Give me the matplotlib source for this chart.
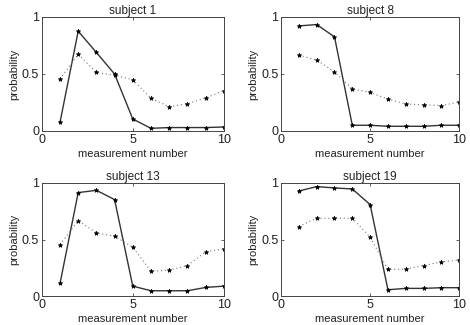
import matplotlib.pyplot as plt

plt.rcParams["font.family"] = ["Liberation Sans", "DejaVu Sans"]

x = [1, 2, 3, 4, 5, 6, 7, 8, 9, 10]

titles = ["subject 1", "subject 8", "subject 13", "subject 19"]

solid_vals = [
    [0.076, 0.875, 0.688, 0.499, 0.105, 0.023, 0.030, 0.030, 0.030, 0.035],
    [0.921, 0.933, 0.825, 0.050, 0.050, 0.041, 0.041, 0.041, 0.050, 0.050],
    [0.112, 0.915, 0.935, 0.853, 0.088, 0.047, 0.047, 0.047, 0.076, 0.088],
    [0.929, 0.968, 0.956, 0.947, 0.809, 0.056, 0.068, 0.068, 0.074, 0.074],
]

dotted_vals = [
    [0.455, 0.673, 0.513, 0.490, 0.449, 0.286, 0.213, 0.239, 0.289, 0.353],
    [0.665, 0.621, 0.519, 0.370, 0.338, 0.280, 0.236, 0.230, 0.222, 0.254],
    [0.453, 0.668, 0.559, 0.529, 0.432, 0.220, 0.229, 0.270, 0.391, 0.418],
    [0.615, 0.688, 0.688, 0.688, 0.521, 0.235, 0.238, 0.270, 0.303, 0.318],
]

fig = plt.figure(figsize=(4.7, 3.25), dpi=100)

boxes = [
    [0.089, 0.597, 0.387, 0.351],
    [0.598, 0.597, 0.379, 0.351],
    [0.089, 0.089, 0.387, 0.348],
    [0.598, 0.089, 0.379, 0.348],
]

txt = "#222222"

for i in range(4):
    ax = fig.add_axes(boxes[i])
    ax.plot(x, solid_vals[i], "-", color="#333333", lw=1.0,
            marker="*", ms=3.3, mew=0.5, mec="black", mfc="black")
    ax.plot(x, dotted_vals[i], color="#777777", lw=0.8, ls=(0, (1, 2.5)),
            marker="*", ms=3.3, mew=0.5, mec="black", mfc="black")
    ax.set_xlim(0, 10)
    ax.set_ylim(0, 1)
    ax.set_xticks([0, 5, 10])
    ax.set_yticks([0, 0.5, 1])
    ax.set_xticklabels(["0", "5", "10"])
    ax.set_yticklabels(["0", "0.5", "1"])
    ax.tick_params(direction="in", top=True, right=True, length=2.5,
                   width=0.6, labelsize=9, pad=2, colors="#444444",
                   labelcolor=txt)
    for s in ax.spines.values():
        s.set_linewidth(0.7)
        s.set_color("#444444")
    ax.set_title(titles[i], fontsize=8.5, pad=2, color=txt)
    ax.set_xlabel("measurement number", fontsize=8, labelpad=2, color=txt)
    ax.set_ylabel("probability", fontsize=8, labelpad=2, color=txt)

plt.savefig("out.png", dpi=100)
